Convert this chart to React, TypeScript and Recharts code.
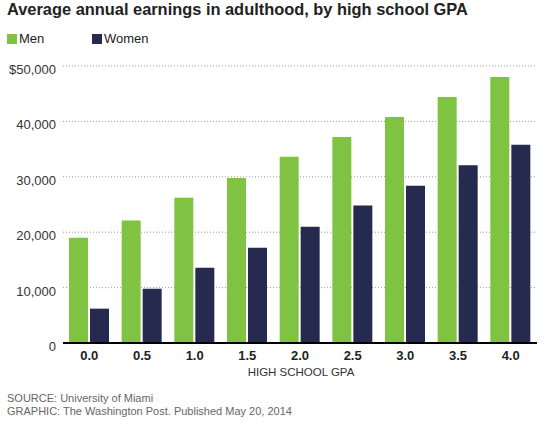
import { BarChart, Bar, XAxis, YAxis, CartesianGrid } from 'recharts';

// high school GPA buckets and average annual earnings in adulthood
const gpaLabels = ['0.0', '0.5', '1.0', '1.5', '2.0', '2.5', '3.0', '3.5', '4.0'];
const menEarnings = [19000, 22100, 26200, 29800, 33600, 37200, 40800, 44400, 48000];
const womenEarnings = [6200, 9800, 13600, 17200, 21000, 24800, 28400, 32100, 35800];
const yTicks = [0, 10000, 20000, 30000, 40000, 50000];

const GREEN = '#80c342';
const NAVY = '#262a4f';
const FONT = '"Liberation Sans", Arial, sans-serif';

const data = gpaLabels.map((gpa, i) => ({ gpa, men: menEarnings[i], women: womenEarnings[i] }));

const fmtY = (v: number) => (v === 50000 ? '$50,000' : v === 0 ? '0' : v.toLocaleString('en-US'));

const YTick = (props: any) => {
  const { x, y, payload } = props;
  return (
    <text x={x} y={y} dy={8} textAnchor="end" fill="#333" fontSize={13} fontFamily={FONT}>
      {fmtY(payload.value)}
    </text>
  );
};

// legend drawn by hand above the chart
const LegendRow = () => (
  <div style={{ position: 'absolute', left: 7, top: 31, display: 'flex', fontFamily: FONT, fontSize: 13, color: '#222' }}>
    <span style={{ display: 'flex', alignItems: 'center', width: 85 }}>
      <span style={{ width: 10, height: 10, background: GREEN, marginRight: 2 }} />Men
    </span>
    <span style={{ display: 'flex', alignItems: 'center' }}>
      <span style={{ width: 10, height: 10, background: NAVY, marginRight: 2 }} />Women
    </span>
  </div>
);

export default function App() {
  return (
    <div style={{ position: 'absolute', left: 0, top: 0, width: 552, height: 430, background: '#fff' }}>
      <div style={{ position: 'absolute', left: 7, top: 0, fontFamily: FONT, fontWeight: 'bold', fontSize: 16.4, color: '#222' }}>
        Average annual earnings in adulthood, by high school GPA
      </div>
      <LegendRow />
      <BarChart
        width={552}
        height={430}
        data={data}
        margin={{ top: 66, right: 15, bottom: 57, left: 0 }}
        barSize={19}
        barGap={2}
      >
        <CartesianGrid vertical={false} stroke="#999" strokeDasharray="1 2" />
        <XAxis
          dataKey="gpa"
          height={30}
          tickLine={false}
          tickSize={0}
          tickMargin={8}
          axisLine={{ stroke: '#000', strokeWidth: 2 }}
          tick={{ fill: '#222', fontSize: 13, fontWeight: 'bold', fontFamily: FONT }}
        />
        <YAxis
          domain={[0, 50000]}
          ticks={yTicks}
          width={63}
          axisLine={false}
          tickLine={false}
          tickSize={5}
          tickMargin={2}
          tick={<YTick />}
        />
        <Bar dataKey="men" name="Men" fill={GREEN} isAnimationActive={false} />
        <Bar dataKey="women" name="Women" fill={NAVY} isAnimationActive={false} />
      </BarChart>
      <div style={{ position: 'absolute', left: 247, top: 366, width: 108, textAlign: 'center', fontFamily: FONT, fontSize: 11.5, color: '#333' }}>
        HIGH SCHOOL GPA
      </div>
      <div style={{ position: 'absolute', left: 7, top: 392, fontFamily: FONT, fontSize: 11, color: '#666', lineHeight: '13px' }}>
        SOURCE: University of Miami
        <br />
        GRAPHIC: The Washington Post. Published May 20, 2014
      </div>
    </div>
  );
}
